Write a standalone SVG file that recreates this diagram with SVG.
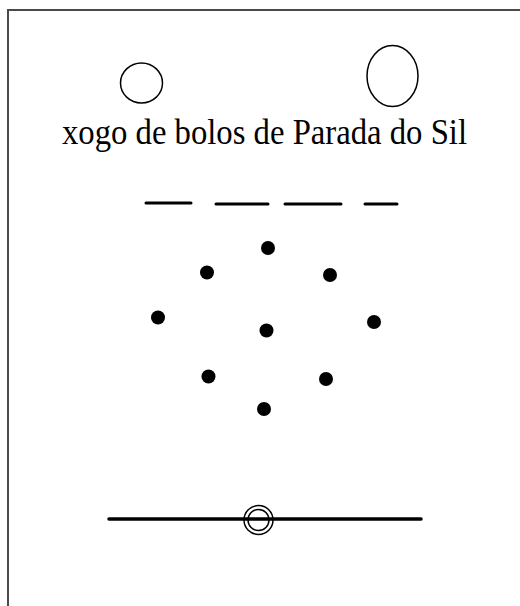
<svg xmlns="http://www.w3.org/2000/svg" width="520" height="606" viewBox="0 0 520 606">
<style>
.ring{fill:none;stroke:#000;stroke-width:1.5}
.dash{stroke:#000;stroke-width:3;stroke-linecap:round}
.pin{fill:#000}
.border{stroke:#4a4a4a;stroke-width:2;fill:none}
.title{font-family:"Liberation Serif","Times New Roman",serif;font-size:35px;fill:#000}
</style>
<rect width="520" height="606" fill="#fff"/>
<g id="border">
<path class="border" d="M8,606 V10 H520"/>
</g>
<g id="ball-left"><ellipse class="ring" cx="141.5" cy="83" rx="21" ry="20"/></g>
<g id="ball-right"><ellipse class="ring" cx="392.5" cy="76" rx="25.5" ry="30.5"/></g>
<g id="title"><text class="title" x="62" y="144" textLength="405" lengthAdjust="spacingAndGlyphs">xogo de bolos de Parada do Sil</text></g>
<g id="dashes">
<line class="dash" x1="146" y1="203" x2="191" y2="203"/>
<line class="dash" x1="216" y1="204" x2="268" y2="204"/>
<line class="dash" x1="285" y1="204" x2="341" y2="204"/>
<line class="dash" x1="365" y1="204" x2="397" y2="204"/>
</g>
<g id="pins">
<circle class="pin" cx="268" cy="248" r="7"/>
<circle class="pin" cx="207" cy="272.5" r="7"/>
<circle class="pin" cx="330" cy="275" r="7"/>
<circle class="pin" cx="158" cy="317.5" r="7"/>
<circle class="pin" cx="266.5" cy="330.5" r="7"/>
<circle class="pin" cx="374" cy="322" r="7"/>
<circle class="pin" cx="208.5" cy="376.5" r="7"/>
<circle class="pin" cx="326" cy="379" r="7"/>
<circle class="pin" cx="264" cy="409" r="7"/>
</g>
<g id="baseline">
<line x1="109" y1="519" x2="421" y2="519" stroke="#000" stroke-width="3.5" stroke-linecap="round"/>
</g>
<g id="mark">
<ellipse class="ring" cx="258.5" cy="520" rx="14.5" ry="14.5"/>
<ellipse class="ring" cx="258.5" cy="520" rx="10.5" ry="10.5"/>
</g>
</svg>
